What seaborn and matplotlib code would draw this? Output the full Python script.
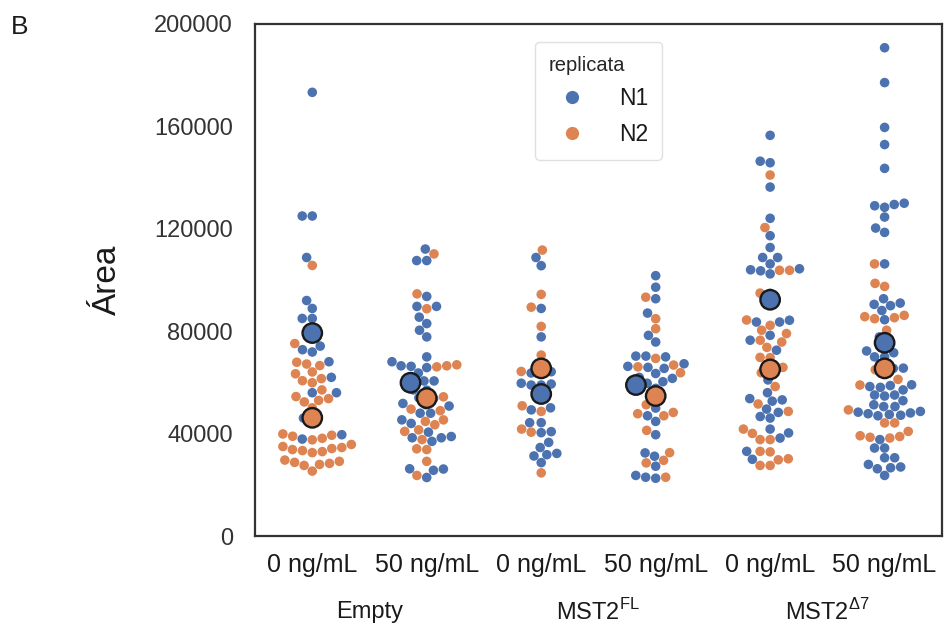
import pandas as pd
import seaborn as sns
import matplotlib.pyplot as plt
from matplotlib.lines import Line2D
from matplotlib.transforms import blended_transform_factory

# --- dados ---
conditions = ["Empty 0", "Empty 50", "FL 0", "FL 50", "D7 0", "D7 50"]
dose_labels = ["0 ng/mL", "50 ng/mL"] * 3
group_labels = ["Empty", "MST2$^{\\mathregular{FL}}$", "MST2$^{\\mathregular{Δ7}}$"]

empty0_n1 = [173300, 125000, 125000, 108800, 92000, 88900, 85000, 85000, 74200, 72800,
             71900, 68100, 62000, 56000, 56000, 46100, 39600, 37900]
empty0_n2 = [105700, 75200, 67900, 67200, 66600, 64100, 63400, 61500, 60700, 59900,
             57100, 54500, 53700, 53000, 52400, 50100, 44300, 39900, 39400, 39000,
             38200, 37600, 35800, 35000, 34600, 34200, 33800, 33400, 33000, 32600,
             29700, 29200, 28800, 28400, 28000, 27600, 25400]
empty50_n1 = [112100, 107600, 107600, 93600, 89700, 89700, 85500, 83000, 80400, 77800,
              70000, 68100, 66500, 66300, 65800, 63700, 60600, 60600, 57100, 57000,
              54000, 53700, 51800, 51300, 50800, 48000, 48000, 45400, 44000, 40600,
              38900, 38400, 38400, 37000, 26300, 26200, 25700, 22900]
empty50_n2 = [110200, 94600, 88800, 66900, 66500, 66100, 54400, 49600, 49000, 45400,
              44800, 43500, 41500, 40900, 37700, 34100, 33800, 29200, 23700]
fl0_n1 = [108800, 105600, 88900, 77800, 64200, 63700, 63700, 59700, 59400, 59000,
          59000, 50100, 49300, 44300, 44300, 40800, 40400, 36600, 34600, 32300,
          31800, 31300, 28700]
fl0_n2 = [111700, 94400, 89400, 81900, 70700, 64300, 50900, 48700, 41800, 40600, 24700]
fl50_n1 = [101700, 97200, 92700, 87100, 78400, 75800, 70000, 70300, 70300, 67300,
           66300, 65900, 65500, 63500, 62000, 61600, 60300, 59700, 57700, 50000,
           47000, 44800, 39600, 32500, 31200, 27300, 23700, 23000, 22600]
fl50_n2 = [93300, 84900, 81000, 69400, 66800, 66100, 63800, 51300, 48300, 47000,
           47800, 41300, 32600, 29600, 28600, 23000]
d70_n1 = [156500, 146400, 145800, 136300, 124100, 117300, 112700, 108800, 108800, 106300,
          104400, 104000, 103600, 102400, 94800, 84300, 83600, 83600, 78400, 76500,
          72600, 63800, 61000, 56000, 53700, 53200, 52700, 49600, 48300, 46700,
          46100, 41800, 40300, 38300, 33100, 30000]
d70_n2 = [141000, 120500, 103800, 103800, 94900, 84400, 82300, 80400, 79100, 76500,
          75800, 73700, 69800, 69700, 65900, 63800, 58400, 51600, 48700, 41800,
          40100, 37700, 37700, 33100, 32900, 30200, 29800, 27600, 27600]
d750_n1 = [190700, 177100, 159600, 152900, 143600, 130000, 129500, 129000, 128400, 124600,
           120300, 118600, 106300, 92700, 91000, 90500, 90000, 88100, 84500, 77800,
           72300, 71600, 70000, 70000, 65500, 65600, 63600, 59100, 58800, 58400,
           58100, 57100, 55100, 55100, 54700, 52900, 51300, 50600, 50600, 48700,
           48400, 48100, 47800, 47500, 47200, 47000, 37700, 34400, 34400, 30600,
           30600, 28000, 27000, 26700, 26300, 23700]
d750_n2 = [106300, 98700, 97500, 85700, 85300, 84900, 86200, 80400, 74600, 65000,
           61200, 59000, 49300, 44200, 44200, 40900, 39200, 38900, 38600, 38300]

# médias por replicata
mean_n1 = [79300, 59900, 55500, 59000, 92300, 75500]
mean_n2 = [46200, 53900, 65500, 54700, 65100, 65500]

cores = ["#4C72B0", "#DD8452"]

series = {
    "Empty 0": (empty0_n1, empty0_n2),
    "Empty 50": (empty50_n1, empty50_n2),
    "FL 0": (fl0_n1, fl0_n2),
    "FL 50": (fl50_n1, fl50_n2),
    "D7 0": (d70_n1, d70_n2),
    "D7 50": (d750_n1, d750_n2),
}
rows = []
for cond, (n1, n2) in series.items():
    rows += [(cond, "N1", v) for v in n1]
    rows += [(cond, "N2", v) for v in n2]
df = pd.DataFrame(rows, columns=["condicao", "replicata", "area"])

df_mean = pd.DataFrame({
    "condicao": conditions * 2,
    "replicata": ["N1"] * 6 + ["N2"] * 6,
    "area": mean_n1 + mean_n2,
})

# --- figura ---
sns.set_theme(style="white")
plt.rcParams["font.family"] = ["Liberation Sans", "DejaVu Sans"]
plt.rcParams["mathtext.fontset"] = "custom"
plt.rcParams["mathtext.rm"] = "Liberation Sans"

fig = plt.figure(figsize=(9.46, 6.3), dpi=100)
ax = fig.add_axes([0.2696, 0.149, 0.726, 0.813])

sns.swarmplot(data=df, x="condicao", y="area", hue="replicata", order=conditions,
              hue_order=["N1", "N2"], palette=cores, size=6.9, linewidth=0,
              legend=False, ax=ax)
sns.swarmplot(data=df_mean, x="condicao", y="area", hue="replicata", order=conditions,
              hue_order=["N1", "N2"], palette=cores, size=14, edgecolor="#1a1a1a",
              linewidth=1.7, legend=False, ax=ax)

ax.set_ylim(0, 200000)
ax.set_yticks([0, 40000, 80000, 120000, 160000, 200000])
ax.set_yticklabels(["0", "40000", "80000", "120000", "160000", "200000"])
ax.set_xticks(range(len(conditions)))
ax.set_xticklabels(dose_labels)
ax.tick_params(axis="y", labelsize=17, labelcolor="#333333", length=0, pad=16)
ax.tick_params(axis="x", labelsize=18, labelcolor="#1a1a1a", length=0, pad=12)
ax.set_xlabel("")
ax.set_ylabel("Área", fontsize=24, color="#1a1a1a", labelpad=22)

for sp in ax.spines.values():
    sp.set_color("#333333")
    sp.set_linewidth(1.6)

trans = blended_transform_factory(ax.transData, ax.transAxes)
for i, lab in enumerate(group_labels):
    ax.text(2 * i + 0.5, -0.148, lab, transform=trans, ha="center", va="center",
            fontsize=17, color="#1a1a1a")

handles = [Line2D([], [], marker="o", linestyle="", markersize=9.5,
                  markerfacecolor=c, markeredgewidth=0) for c in cores]
leg = ax.legend(handles, ["N1", "N2"], title="replicata", loc="upper left",
                bbox_to_anchor=(0.4076, 0.965), borderaxespad=0, fontsize=16.5,
                title_fontsize=14.5, handletextpad=1.05, labelspacing=0.55,
                borderpad=0.6, frameon=True, edgecolor="#d9d9d9")
leg._legend_box.align = "left"
for t in leg.get_texts():
    t.set_color("#1a1a1a")

fig.text(0.011, 0.957, "B", fontsize=19, va="center", ha="left", color="#1a1a1a")

fig.savefig("out.png", dpi=100)
